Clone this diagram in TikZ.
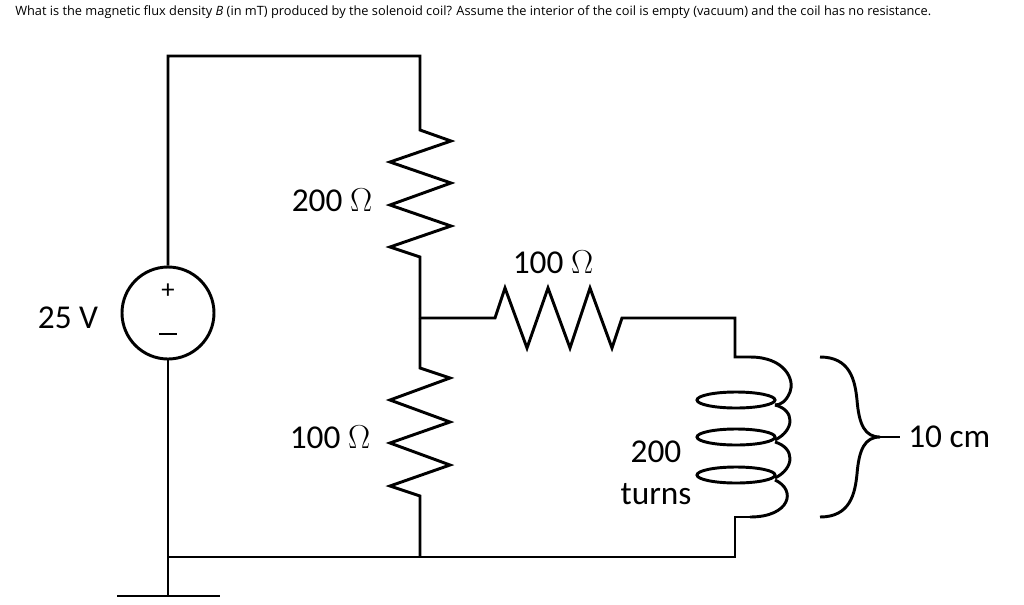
\documentclass[tikz,border=0pt]{standalone}
\usepackage{fontspec}
\setmainfont{Carlito}
\newfontfamily\titlefont{Open Sans}
\begin{document}
\begin{tikzpicture}[x=0.75pt,y=-0.75pt,
  w/.style={line width=2.2pt,line join=miter},
  lbl/.style={font=\fontsize{25}{28}\selectfont,inner sep=0pt}]
\useasboundingbox (0,0) rectangle (1024,604);
\node[font=\titlefont\fontsize{9.6}{11}\selectfont,anchor=west,inner sep=0pt] (title) at (15,12) {What is the magnetic flux density \textit{B} (in mT) produced by the solenoid coil? Assume the interior of the coil is empty (vacuum) and the coil has no resistance.};
% source
\node[draw,circle,line width=2.2pt,minimum size=92pt*0.75,inner sep=0pt] (src) at (168,313) {};
\node[font=\fontsize{20}{20}\selectfont,inner sep=0pt] (plus) at (168,291) {+};
\draw[line width=1.6pt] (159,334)--(177,334);
\node[lbl] (v) at (68,318) {25 V};
\coordinate (tl) at (168,56);
\coordinate (tr) at (420,56);
\coordinate (bl) at (168,557);
\coordinate (gnd) at (168,596);
\coordinate (j) at (420,318);
\coordinate (br) at (420,557);
\coordinate (cr) at (735,557);
\draw[w] (src.north) -- (tl) -- (tr) -- (420,130) -- (451,141) -- (390,162) -- (451,183) -- (390,205) -- (451,226) -- (390,247) -- (420,257) -- (j);
\draw[w] (j) -- (420,368) -- (450,378) -- (390,400) -- (450,422) -- (390,443) -- (450,465) -- (390,486) -- (420,496) -- (br);
\draw[w] (j) -- (495,318) -- (505,288) -- (527,348) -- (548,288) -- (570,348) -- (590,288) -- (612,348) -- (622,318) -- (735,318) -- (735,357) -- (750,357);
\draw[w] (src.south) -- (gnd);
\draw[w] (117,596) -- (220,596);
\draw[w] (bl) -- (br) -- (cr) -- (735,517) -- (750,517);
% coil
\draw[w] (750,357) .. controls (785,357) and (795,380) .. (790,392) .. controls (786,402) and (780,405) .. (775,405);
\foreach \y in {400,437,475}{
  \draw[w] (736,\y) ellipse (39 and 8);
}
\draw[w] (775,405) .. controls (795,410) and (795,430) .. (775,440);
\draw[w] (775,442) .. controls (795,448) and (795,468) .. (775,478);
\draw[w] (775,480) .. controls (797,490) and (790,517) .. (750,517);
% brace
\draw[w] (820,357) .. controls (850,357) and (855,380) .. (857,400) .. controls (859,425) and (865,437) .. (880,437) .. controls (865,437) and (859,449) .. (857,474) .. controls (855,494) and (850,517) .. (820,517);
\draw[w] (880,437) -- (900,437);
\node[lbl,anchor=west] (len) at (908,437) {10 cm};
\node[lbl] (r1) at (332,200) {200 $\Omega$};
\node[lbl] (r2) at (330,437) {100 $\Omega$};
\node[lbl] (r3) at (553,262) {100 $\Omega$};
\node[lbl] (t1) at (656,452) {200};
\node[lbl] (t2) at (656,494) {turns};
\end{tikzpicture}
\end{document}
